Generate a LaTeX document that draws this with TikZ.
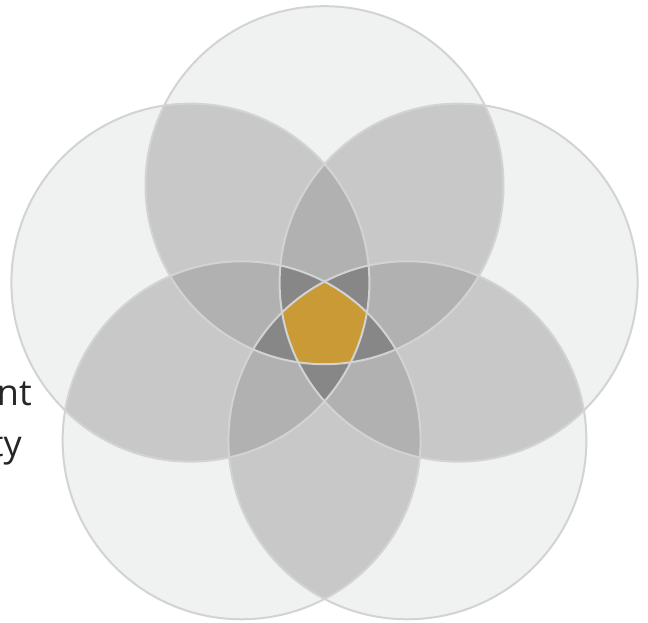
\documentclass[tikz,border=0pt]{standalone}
\usepackage{fontspec}
\setmainfont{Open Sans}
\definecolor{one}{HTML}{F0F1F1}
\definecolor{two}{HTML}{C8C8C8}
\definecolor{three}{HTML}{B1B1B1}
\definecolor{four}{HTML}{878788}
\definecolor{five}{HTML}{CA9A36}
\definecolor{ringc}{HTML}{D2D3D4}
\definecolor{txt}{HTML}{262626}
\tikzset{
  ring/.style={draw=ringc, line width=2pt},
  lbl/.style={inner sep=0pt, text=txt, font=\fontsize{36}{40}\selectfont, anchor=base east}
}
\begin{document}
\begin{tikzpicture}[x=1pt,y=-1pt]
\useasboundingbox (0,0) rectangle (648,623);
\def\R{179pt}
\coordinate (c0) at (324.5,185.2);
\coordinate (c1) at (190.4,282.63);
\coordinate (c2) at (458.6,282.63);
\coordinate (c3) at (241.62,440.27);
\coordinate (c4) at (407.38,440.27);
% text
\node[lbl] (t1) at (32,405) {nt};
\node[lbl] (t2) at (22,456) {ty};
% singles
\foreach \i in {0,...,4}{\fill[one] (c\i) circle[radius=\R];}
% pairs
\foreach \a/\b in {0/1,0/2,0/3,0/4,1/2,1/3,1/4,2/3,2/4,3/4}{
  \begin{scope}\clip (c\a) circle[radius=\R]; \fill[two] (c\b) circle[radius=\R];\end{scope}}
% triples
\foreach \a/\b/\c in {0/1/2,0/1/3,0/1/4,0/2/3,0/2/4,0/3/4,1/2/3,1/2/4,1/3/4,2/3/4}{
  \begin{scope}\clip (c\a) circle[radius=\R]; \clip (c\b) circle[radius=\R]; \fill[three] (c\c) circle[radius=\R];\end{scope}}
% quadruples
\foreach \a/\b/\c/\d in {0/1/2/3,0/1/2/4,0/1/3/4,0/2/3/4,1/2/3/4}{
  \begin{scope}\clip (c\a) circle[radius=\R]; \clip (c\b) circle[radius=\R]; \clip (c\c) circle[radius=\R]; \fill[four] (c\d) circle[radius=\R];\end{scope}}
% all five
\begin{scope}
  \clip (c0) circle[radius=\R]; \clip (c1) circle[radius=\R]; \clip (c2) circle[radius=\R]; \clip (c3) circle[radius=\R];
  \fill[five] (c4) circle[radius=\R];
\end{scope}
% outlines
\foreach \i in {0,...,4}{\draw[ring] (c\i) circle[radius=\R];}
\end{tikzpicture}
\end{document}
